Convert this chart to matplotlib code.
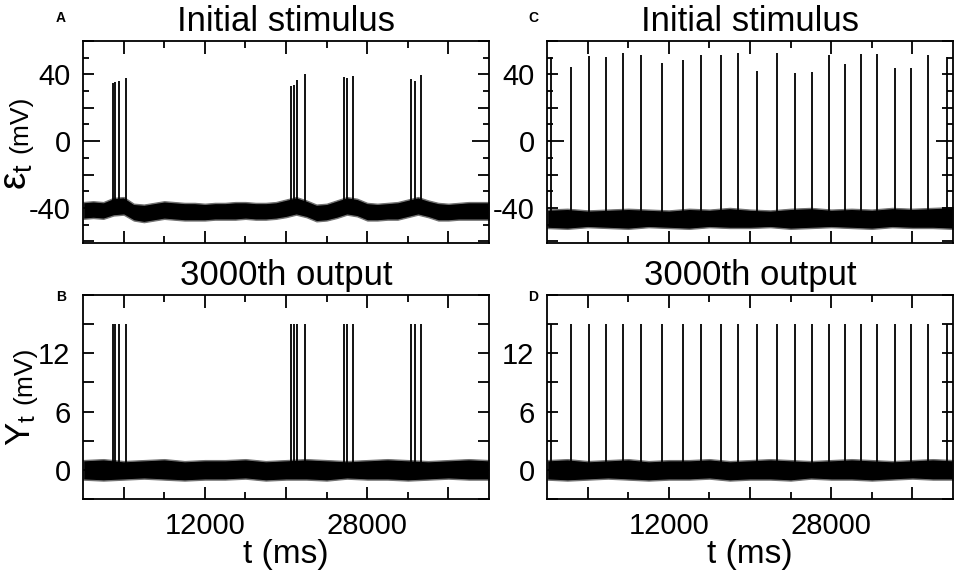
"""Spike trains: initial stimulus (top) and 3000th output (bottom) for a
bursting input (left column) and a regular-spiking input (right column)."""

import matplotlib
matplotlib.use("Agg")
import matplotlib.pyplot as plt
import numpy as np
from matplotlib.ticker import FixedLocator, FuncFormatter, MultipleLocator

plt.rcParams["font.family"] = ["Liberation Sans", "DejaVu Sans"]
plt.rcParams["mathtext.fontset"] = "custom"
plt.rcParams["mathtext.rm"] = "Liberation Sans"
plt.rcParams["mathtext.it"] = "Liberation Sans:italic"

# bursting input (panels A and B): spike times (ms) and input peaks (mV)
BURST_TIMES = [2950, 3200, 3500, 4230,
               20500, 20750, 21050, 21830,
               25700, 26000, 26630,
               32350, 32690, 33310]
BURST_PEAKS = [34.8, 35.2, 36.0, 38.0,
               33.0, 33.8, 36.4, 40.0,
               38.4, 37.6, 39.2,
               37.2, 36.0, 39.6]

# regular input (panels C and D)
REGULAR_TIMES = [400, 2360, 4100, 5820, 7520, 9230, 11340, 13380, 15150,
                 17100, 18800, 20680, 22690, 24400, 26150, 27760, 29340,
                 30920, 32490, 34240, 35880, 37560, 39370]
REGULAR_PEAKS = [50.7, 44.4, 51.3, 50.3, 52.7, 51.8, 47.0, 48.4, 51.9,
                 51.8, 53.0, 42.0, 53.0, 41.0, 41.4, 51.8, 46.0, 52.4,
                 52.4, 44.0, 44.0, 51.9, 50.7]

OUTPUT_PEAK = 15.0      # output spikes saturate at this value (mV)
BURST_REST = -42.0      # resting level of the bursting input (mV)
REGULAR_REST = -46.5    # resting level of the regular input (mV)
OUTPUT_REST = 0.0

# envelope of the noisy baseline
ENV_TIME_A = np.arange(0, 40001, 1000)
ENV_HIGH_A = [-36.5, -36, -36.5, -34, -33.5, -37.5, -38, -37, -36, -36.5,
              -37, -37, -37.5, -37, -37, -36.5, -36.5, -37, -37, -36.5,
              -35, -33.5, -35.5, -38, -37.5, -35.5, -33.5, -34.5, -37, -37.5,
              -37, -36.5, -35, -33.5, -35.5, -37, -37.5, -37, -36.5, -36.5,
              -36.5]
ENV_LOW_A = [-46.5, -46, -46.5, -44.5, -44, -47.5, -48.5, -47.5, -46.5, -47,
             -47.5, -47.5, -47.5, -47, -47, -47, -46.5, -47, -47, -46.5,
             -45.5, -44, -45.5, -48, -47.5, -46, -44, -45, -47.5, -47.5,
             -47, -47, -45.5, -44, -45.5, -47.5, -47.5, -47, -47, -47,
             -47]

ENV_TIME = np.arange(0, 40001, 2000)
ENV_HIGH_C = [-41, -40.5, -41.5, -41, -40.5, -41, -41.5, -40.5, -41, -40,
              -41, -41.5, -40.5, -40, -41, -40.5, -41, -40, -40.5, -40,
              -39.5]
ENV_LOW_C = [-52, -52.5, -51.5, -52, -52.5, -51.5, -52, -52.5, -51.5, -52,
             -52, -51.5, -52.5, -52, -51.5, -52, -52.5, -51.5, -52, -52,
             -52.5]
ENV_HIGH_OUT = [1.0, 1.1, 0.9, 1.0, 1.1, 0.9, 1.0, 1.0, 1.1, 0.9,
                1.0, 1.1, 1.0, 0.9, 1.0, 1.1, 1.0, 0.9, 1.0, 1.1, 1.0]
ENV_LOW_OUT = [-1.0, -1.1, -1.0, -0.9, -1.0, -1.1, -1.0, -1.0, -0.9, -1.1,
               -1.0, -1.0, -1.1, -0.9, -1.0, -1.0, -1.1, -1.0, -0.9, -1.0,
               -1.0]

X_LABELLED = [12000, 28000]
INPUT_LABELLED = [-40, 0, 40]
OUTPUT_LABELLED = [0, 6, 12]


def label_only(values):
    return FuncFormatter(lambda v, pos: f"{v:.0f}"
                         if any(abs(v - k) < 1e-6 for k in values) else "")


def style_axes(ax, bottom_row):
    ax.set_xlim(0, 40000)
    ax.xaxis.set_major_locator(FixedLocator([4000, 12000, 20000, 28000, 36000]))
    ax.xaxis.set_minor_locator(FixedLocator([8000, 16000, 24000, 32000]))
    ax.xaxis.set_major_formatter(label_only(X_LABELLED) if bottom_row
                                 else FuncFormatter(lambda v, p: ""))
    ax.tick_params(which="both", direction="in", top=True, right=True,
                   width=1.3, labelsize=21, pad=9)
    ax.tick_params(axis="x", which="major", length=9)
    ax.tick_params(axis="x", which="minor", length=5)
    for spine in ax.spines.values():
        spine.set_linewidth(1.3)


def draw_trace(ax, times, peaks, rest, env_t, env_hi, env_lo):
    ax.vlines(times, rest, peaks, color="black", linewidth=1.3)
    ax.fill_between(env_t, env_lo, env_hi, facecolor="black",
                    edgecolor="0.45", linewidth=1.0)


def input_axes(ax):
    ax.set_ylim(-61, 60)
    ax.yaxis.set_major_locator(MultipleLocator(20))
    ax.yaxis.set_minor_locator(MultipleLocator(10))
    ax.yaxis.set_major_formatter(label_only(INPUT_LABELLED))
    ax.tick_params(axis="y", which="major", length=8)
    ax.tick_params(axis="y", which="minor", length=4.5)
    for tick, value in zip(ax.yaxis.get_major_ticks(),
                           ax.yaxis.get_major_locator()()):
        if abs(value) < 1e-6:
            tick.tick1line.set_markersize(12)
            tick.tick2line.set_markersize(12)


def output_axes(ax):
    ax.set_ylim(-3, 18)
    ax.yaxis.set_major_locator(MultipleLocator(3))
    ax.yaxis.set_major_formatter(label_only(OUTPUT_LABELLED))
    ax.tick_params(axis="y", which="major", length=8)


W, H = 957, 576
fig = plt.figure(figsize=(W / 100, H / 100), dpi=100)
ax_a = fig.add_axes([83 / W, 1 - 243 / H, 406 / W, 202 / H])
ax_b = fig.add_axes([83 / W, 1 - 499 / H, 406 / W, 204 / H])
ax_c = fig.add_axes([547 / W, 1 - 243 / H, 406 / W, 202 / H])
ax_d = fig.add_axes([547 / W, 1 - 499 / H, 406 / W, 204 / H])

draw_trace(ax_a, BURST_TIMES, BURST_PEAKS, BURST_REST,
           ENV_TIME_A, ENV_HIGH_A, ENV_LOW_A)
draw_trace(ax_b, BURST_TIMES, [OUTPUT_PEAK] * len(BURST_TIMES), OUTPUT_REST,
           ENV_TIME, ENV_HIGH_OUT, ENV_LOW_OUT)
draw_trace(ax_c, REGULAR_TIMES, REGULAR_PEAKS, REGULAR_REST,
           ENV_TIME, ENV_HIGH_C, ENV_LOW_C)
draw_trace(ax_d, REGULAR_TIMES, [OUTPUT_PEAK] * len(REGULAR_TIMES),
           OUTPUT_REST, ENV_TIME, ENV_HIGH_OUT, ENV_LOW_OUT)

for ax, bottom in [(ax_a, False), (ax_b, True), (ax_c, False), (ax_d, True)]:
    style_axes(ax, bottom)
for ax in (ax_a, ax_c):
    input_axes(ax)
    ax.set_title("Initial stimulus", fontsize=25, pad=7)
for ax in (ax_b, ax_d):
    output_axes(ax)
    ax.set_title("3000th output", fontsize=25, pad=7)
    ax.set_xlabel("t (ms)", fontsize=24, labelpad=0)

# y labels: large symbol with subscript, smaller unit
fig.text(17 / W, 1 - 176 / H, r"$\mathregular{\varepsilon_t}$", rotation=90,
         fontsize=28, ha="center", va="center")
fig.text(20 / W, 1 - 124 / H, "(mV)", rotation=90, fontsize=19,
         ha="center", va="center")
fig.text(21 / W, 1 - 430 / H, r"$\mathregular{Y_t}$", rotation=90,
         fontsize=25, ha="center", va="center")
fig.text(24 / W, 1 - 375 / H, "(mV)", rotation=90, fontsize=19,
         ha="center", va="center")

for letter, x, y in [("A", 61, 18), ("B", 61, 297), ("C", 533, 18),
                     ("D", 533, 297)]:
    fig.text(x / W, 1 - y / H, letter, fontsize=10, fontweight="bold",
             ha="center", va="center")

fig.savefig("out.png", dpi=100)
